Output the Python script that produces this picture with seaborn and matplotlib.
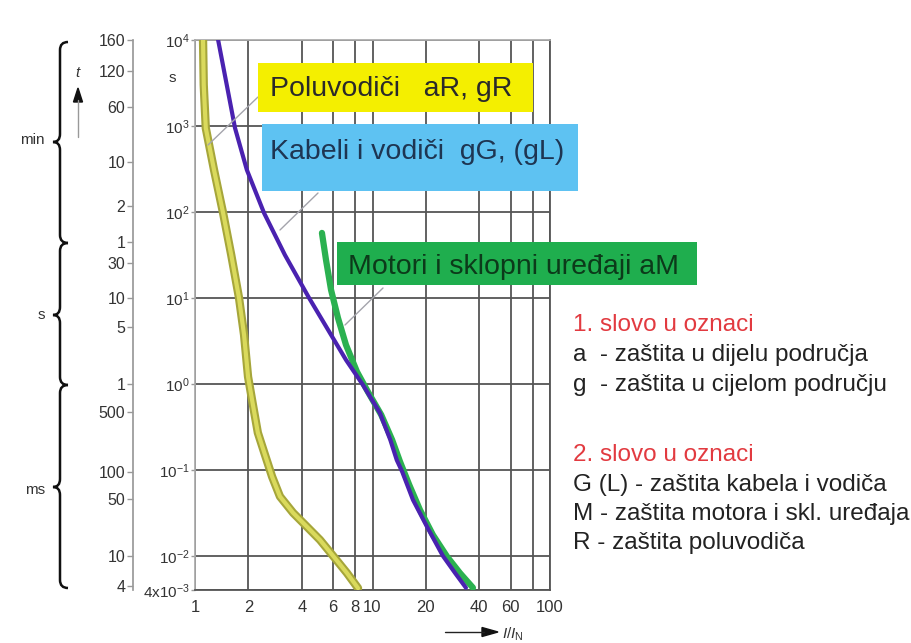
import matplotlib
matplotlib.use("Agg")
import matplotlib.pyplot as plt
import seaborn as sns
from matplotlib.transforms import Affine2D
from matplotlib.patches import Rectangle, Polygon, PathPatch
from matplotlib.path import Path
from matplotlib.lines import Line2D
from matplotlib.ticker import NullLocator

# time-current characteristics: I/I_N and t [s]
semi_I = [1.11, 1.12, 1.15, 1.28, 1.44, 1.60, 1.77, 1.89, 1.99, 2.12, 2.26,
          2.48, 2.72, 3.01, 3.57, 4.28, 5.06, 5.99, 7.18, 8.29]
semi_t = [1e4, 3000, 948, 308, 97, 31.6, 10, 3.71, 1.21, 0.57, 0.27,
          0.149, 0.083, 0.049, 0.0316, 0.0217, 0.0153, 0.01, 0.0063, 0.0042]

cable_I = [1.35, 1.51, 1.68, 1.96, 2.45, 3.21, 4.39, 5.62, 7.09, 8.84,
           11.0, 12.6, 13.7, 14.7, 16.9, 20.3, 24.9, 29.2, 33.6]
cable_t = [1e4, 3000, 948, 308, 97, 31.6, 10, 4.25, 1.9, 0.97,
           0.46, 0.223, 0.13, 0.095, 0.0448, 0.0217, 0.01, 0.0063, 0.00425]

motor_I = [5.19, 5.47, 5.84, 6.39, 7.09, 8.18, 9.43, 11.2, 12.9, 14.3, 16.1,
           18.5, 21.9, 26.3, 31.1, 36.8]
motor_t = [57, 27.7, 12.4, 5.85, 2.84, 1.38, 0.807, 0.436, 0.223, 0.124, 0.067,
           0.0343, 0.0175, 0.0098, 0.0063, 0.00425]

x_ticks = [1, 2, 4, 6, 8, 10, 20, 40, 60, 80, 100]
x_labels = ['1', '2', '4', '6', '8', '10', '20', '40', '60', '', '100']
y_ticks = [0.004, 0.01, 0.1, 1, 10, 100, 1000, 10000]
y_labels = [r'$4\mathrm{x}10^{-3}$', r'$10^{-2}$', r'$10^{-1}$', r'$10^{0}$',
            r'$10^{1}$', r'$10^{2}$', r'$10^{3}$', r'$10^{4}$']

# outer time scale (min / s / ms) - positions as they sit in the picture
left_pos = [1e4, 4360, 1663, 381, 117, 44.8, 25.5, 10, 4.6, 1, 0.47, 0.095, 0.046, 0.01, 0.0044]
left_labels = ['160', '120', '60', '10', '2', '1', '30', '10', '5', '1', '500', '100', '50', '10', '4']

legend_lines = ['1. slovo u oznaci', 'a  - zaštita u dijelu područja', 'g  - zaštita u cijelom području',
                '2. slovo u oznaci', 'G (L) - zaštita kabela i vodiča',
                'M - zaštita motora i skl. uređaja', 'R - zaštita poluvodiča']

sns.set_theme(style="white")
plt.rcParams['font.family'] = ['Liberation Sans', 'DejaVu Sans']
plt.rcParams['mathtext.fontset'] = 'custom'
plt.rcParams['mathtext.rm'] = 'Liberation Sans'
plt.rcParams['mathtext.it'] = 'Liberation Sans:italic'

W, H = 912, 643
fig = plt.figure(figsize=(W / 100, H / 100), dpi=100)
T = Affine2D().scale(1 / W, -1 / H).translate(0, 1) + fig.transFigure  # pixel coords, y down

ax = fig.add_axes([195 / W, (H - 590) / H, 355 / W, 550 / H])
ax.set_xscale('log')
ax.set_yscale('log')
ax.set_xlim(1, 100)
ax.set_ylim(0.004, 1e4)
ax.set_xticks(x_ticks)
ax.set_xticklabels(x_labels)
ax.set_yticks(y_ticks)
ax.set_yticklabels(y_labels)
ax.xaxis.set_minor_locator(NullLocator())
ax.yaxis.set_minor_locator(NullLocator())
ax.grid(True, color='#555555', lw=1.3)
ax.tick_params(axis='x', length=0, pad=7, labelsize=12, labelcolor='#333333')
ax.tick_params(axis='y', left=True, length=3, width=1, color='#999999', pad=1,
               labelsize=11, labelcolor='#333333')
for side in ['left', 'top']:
    ax.spines[side].set_color('#aaaaaa')
for side in ['right', 'bottom']:
    ax.spines[side].set_color('#555555')
    ax.spines[side].set_linewidth(1.3)
ax.set_xlabel('')
ax.set_ylabel('')

sns.lineplot(x=semi_I, y=semi_t, ax=ax, sort=False, color='#a6a63a', lw=6, zorder=3)
sns.lineplot(x=semi_I, y=semi_t, ax=ax, sort=False, color='#dada5c', lw=3, zorder=3)
sns.lineplot(x=motor_I, y=motor_t, ax=ax, sort=False, color='#2bb150', lw=4.5, zorder=3)
sns.lineplot(x=cable_I, y=cable_t, ax=ax, sort=False, color='#4a22b0', lw=3, zorder=4)

# outer scale
ax2 = fig.add_axes([133 / W, (H - 590) / H, 0.001, 550 / H])
ax2.set_yscale('log')
ax2.set_ylim(0.004, 1e4)
ax2.set_yticks(left_pos)
ax2.set_yticklabels(left_labels)
ax2.yaxis.set_minor_locator(NullLocator())
ax2.set_xticks([])
ax2.patch.set_visible(False)
for side in ['right', 'top', 'bottom']:
    ax2.spines[side].set_visible(False)
ax2.spines['left'].set_color('#999999')
ax2.tick_params(axis='y', left=True, length=4, width=1, color='#999999', pad=1.5,
                labelsize=11.5, labelcolor='#333333')

fig.text(172, 78, 's', transform=T, ha='center', va='center', fontsize=11, color='#333333')

# braces for min / s / ms
def brace(top, mid, bot, x=60, hook=68, tip=53):
    verts = [(hook, top), (x, top), (x, top + 8), (x, mid - 8), (x, mid), (tip, mid),
             (x, mid), (x, mid + 8), (x, bot - 8), (x, bot), (hook, bot)]
    codes = [Path.MOVETO, Path.CURVE3, Path.CURVE3, Path.LINETO, Path.CURVE3, Path.CURVE3,
             Path.CURVE3, Path.CURVE3, Path.LINETO, Path.CURVE3, Path.CURVE3]
    fig.add_artist(PathPatch(Path(verts, codes), transform=T, fill=False, lw=1.8, color='#111111'))

brace(42, 142, 243)
brace(243, 315, 385)
brace(385, 487, 588)
for lab, yy in [('min', 140), ('s', 315), ('ms', 490)]:
    fig.text(45, yy, lab, transform=T, ha='right', va='center', fontsize=11, color='#333333')

# t arrow
fig.text(77, 73, 't', transform=T, ha='center', va='center', fontsize=11, style='italic', color='#333333')
fig.add_artist(Line2D([78, 78], [137, 100], transform=T, color='#999999', lw=1))
fig.add_artist(Polygon([(73.5, 102), (82.5, 102), (78, 88)], closed=True, transform=T, color='#111111'))

# I/I_N arrow
fig.add_artist(Line2D([445, 484], [632, 632], transform=T, color='#222222', lw=1))
fig.add_artist(Polygon([(482, 627.5), (482, 636.5), (498, 632)], closed=True, transform=T, color='#111111'))
fig.text(502, 634, r'$I/I_\mathrm{N}$', transform=T, ha='left', va='center', fontsize=11, color='#333333')

# leader lines
for (x0, y0, x1, y1) in [(208, 145, 258, 97), (280, 230, 318, 193), (345, 325, 383, 288)]:
    fig.add_artist(Line2D([x0, x1], [y0, y1], transform=T, color='#a4a4ac', lw=1, zorder=5))

# labelled boxes
boxes = [
    ((258, 63, 275, 49), '#f4ef00', 270, 89, 'Poluvodiči   aR, gR', '#2a2a2a'),
    ((262, 124, 316, 67), '#5ec2f2', 270, 152, 'Kabeli i vodiči  gG, (gL)', '#1e3552'),
    ((337, 242, 360, 43), '#1fae4e', 348, 267, 'Motori i sklopni uređaji aM', '#0c3a1a'),
]
for (bx, by, bw, bh), fc, tx, ty, txt, tc in boxes:
    fig.add_artist(Rectangle((bx, by), bw, bh, transform=T, facecolor=fc, edgecolor='none', zorder=6))
    fig.text(tx, ty, txt, transform=T, ha='left', va='center', fontsize=20.5, color=tc, zorder=7)

# explanation text on the right
for txt, yy in zip(legend_lines, [325, 355, 385, 455, 485, 514, 543]):
    col = '#e23a40' if 'slovo' in txt else '#222222'
    fig.text(573, yy, txt, transform=T, ha='left', va='center', fontsize=17.5, color=col)

fig.savefig('out.png', dpi=100, facecolor='white')
